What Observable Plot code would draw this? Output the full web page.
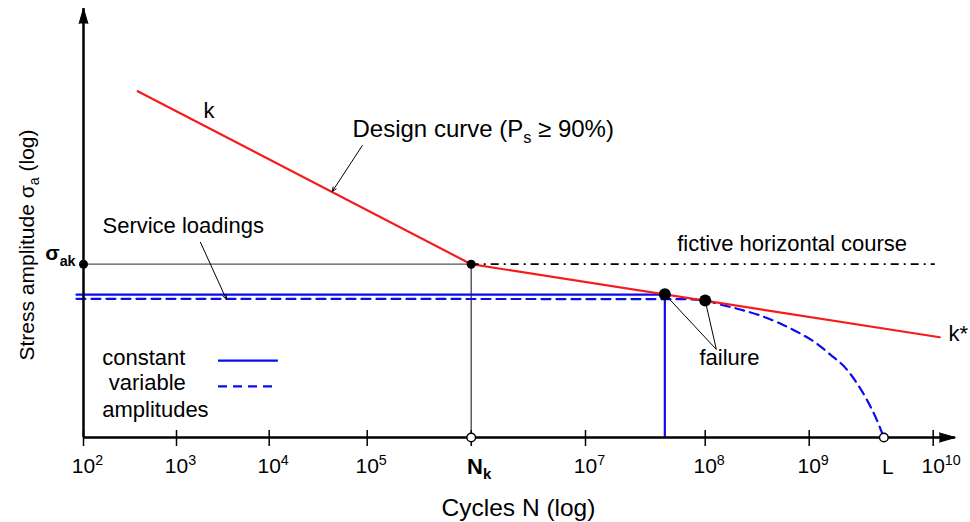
<!DOCTYPE html>
<html><head><meta charset="utf-8">
<script src="https://cdn.jsdelivr.net/npm/d3@7"></script>
<script src="https://cdn.jsdelivr.net/npm/@observablehq/plot@0.6"></script>
<style>
body{margin:0;background:#fff;}
#chart svg{display:block;font-family:"Liberation Sans",Arial,Helvetica,sans-serif;}
</style></head><body><div id="chart"></div>
<script>
// ---- axis ticks (cycles N, log) ----
const xDecades = [1e2, 1e3, 1e4, 1e5, 1e6, 1e7, 1e8, 1e9, 1e10];
const tickValues = [1e2, 1e3, 1e4, 1e5, 1e6, 1e7, 1e8, 1e9, 4e9, 1e10];
const tickLabels = ["10^{2}", "10^{3}", "10^{4}", "10^{5}", "N_{k}", "10^{7}", "10^{8}", "10^{9}", "L", "10^{10}"];
const tickMarked = [true, true, true, true, true, true, true, true, false, true];

// ---- key values (stress amplitude in relative log units, sigma_ak = 100) ----
const sigmaAk = 100;
const Nk = 1e6;
const NL = 4e9;
const yMin = 21, yTop = 1000;
const xMin = 1e2, xTip = 1.51e10;

// design curve (k, then k*)
const designN = [383, 1e6, 1.13e10];
const designS = [475, 100, 51.8];
// fictive horizontal course
const fictiveN = [1e6, 1.04e10];
// constant amplitude service loading
const constN = [84, 4.6e7];
const constS = [76, 76];
// variable amplitude service loading
const varN = [84, 6.2e7, 1e8, 1.39e8, 2.17e8, 3.38e8, 5.26e8, 8.19e8, 1.12e9, 1.48e9, 1.95e9, 2.44e9, 2.94e9, 3.47e9, 4e9];
const varS = [73.2, 73.0, 72.1, 69.6, 66.5, 63.0, 58.6, 53.6, 49.4, 44.3, 39.4, 34.1, 29.3, 24.9, 21];
// failure points
const failureN = [4.6e7, 1e8];
const failureS = [76.3, 72.1];
const failureLabelPoint = [1.28e8, 46.4];

// annotation arrows [from, to]
const arrowFromN = [8.9e4, 1.81e3];
const arrowFromS = [291, 121.9];
const arrowToN = [4.4e4, 3.46e3];
const arrowToS = [192.4, 72.8];

// annotation texts (left-aligned, baseline)
const designLabel = "Design curve (P_{s} ≥ 90%)";
const designLabelN = 7.08e4, designLabelS = 313;
const noteText = ["k", "Service loadings", "fictive horizontal course", "failure", "k*", "constant", "variable", "amplitudes"];
const noteN = [1.95e3, 160, 5.83e7, 8.96e7, 1.33e10, 159, 187, 159];
const noteS = [371.5, 133, 112.4, 40.2, 50.3, 40.4, 32.1, 25.2];

// legend samples
const legendN = [2.84e3, 1.24e4];
const legendConstS = 42.0;
const legendVarS = 33.3;

const xTitle = "Cycles N (log)";
const yTitle = "Stress amplitude σ_{a} (log)";
const sigmaLabel = "σ_{ak}";

// ---- build tables ----
const red = "#f41c1c", blue = "#0b0bf0";
const pts = (N, S) => N.map((n, i) => ({N: n, S: S[i]}));
const design = pts(designN, designS);
const constant = pts(constN, constS);
const variable = pts(varN, varS);
const failures = pts(failureN, failureS);
const notes = noteText.map((t, i) => ({text: t, N: noteN[i], S: noteS[i]}));
const arrows = arrowFromN.map((n, i) => ({x1: n, y1: arrowFromS[i], x2: arrowToN[i], y2: arrowToS[i]}));
const leaders = failures.map(d => ({x1: d.N, y1: d.S, x2: failureLabelPoint[0], y2: failureLabelPoint[1]}));
const ticks = tickValues.map((v, i) => ({N: v, label: tickLabels[i], marked: tickMarked[i]}));
const labelMap = new Map(ticks.map(d => [d.N, d.label]));
const powerTicks = ticks.filter(d => d.N !== Nk && d.N !== NL);

const plot = Plot.plot({
  width: 970, height: 522,
  marginTop: 8, marginBottom: 85, marginLeft: 83, marginRight: 37,
  style: {background: "white", color: "black", fontFamily: "Liberation Sans, Arial, sans-serif"},
  x: {type: "log", domain: xDecades, range: [83, 176, 268.7, 366.7, 470.7, 585, 704.7, 808.7, 932.7]},
  y: {type: "log", domain: [yMin, yTop], range: [437, 8], axis: null},
  marks: [
    // guide lines at sigma_ak and Nk
    Plot.ruleY([sigmaAk], {x1: xMin, x2: Nk, stroke: "#555", strokeWidth: 1.2}),
    Plot.ruleX([Nk], {y1: yMin, y2: sigmaAk, stroke: "#333", strokeWidth: 1.2}),
    // service loadings
    Plot.line(constant, {x: "N", y: "S", stroke: blue, strokeWidth: 2.2}),
    Plot.ruleX([failureN[0]], {y1: yMin, y2: constS[1], stroke: blue, strokeWidth: 2.2}),
    Plot.line(variable, {x: "N", y: "S", stroke: blue, strokeWidth: 2.2, strokeDasharray: "9,6", curve: "monotone-x"}),
    // design curve
    Plot.line(design, {x: "N", y: "S", stroke: red, strokeWidth: 2.2}),
    // fictive horizontal course
    Plot.ruleY([sigmaAk], {x1: fictiveN[0], x2: fictiveN[1], stroke: "black", strokeWidth: 1.7, strokeDasharray: "8,5,2,5"}),
    // annotation arrows and leaders
    Plot.arrow(arrows, {x1: "x1", y1: "y1", x2: "x2", y2: "y2", stroke: "black", strokeWidth: 1, headLength: 7, headAngle: 45}),
    Plot.link(leaders, {x1: "x1", y1: "y1", x2: "x2", y2: "y2", stroke: "black", strokeWidth: 1}),
    // legend samples
    Plot.ruleY([legendConstS], {x1: legendN[0], x2: legendN[1], stroke: blue, strokeWidth: 2.2}),
    Plot.ruleY([legendVarS], {x1: legendN[0], x2: legendN[1], stroke: blue, strokeWidth: 2.2, strokeDasharray: "9,6"}),
    // axes lines with arrowheads
    Plot.ruleY([yMin], {x1: xMin, x2: xTip, stroke: "black", strokeWidth: 2.5}),
    Plot.ruleX([xMin], {y1: yMin, y2: yTop, stroke: "black", strokeWidth: 2.5}),
    Plot.vector([{N: xTip, S: yMin}], {x: "N", y: "S", rotate: 90, length: 16, r: 4.6, shape: "spike", anchor: "end", fill: "black", stroke: "black", strokeWidth: 1}),
    Plot.vector([{N: xMin, S: yTop}], {x: "N", y: "S", rotate: 0, length: 15, r: 4.4, shape: "spike", anchor: "end", fill: "black", stroke: "black", strokeWidth: 1}),
    // tick marks crossing the axis
    Plot.ruleX(ticks.filter(d => d.marked), {x: "N", y1: yMin, y2: yMin, insetTop: -7, insetBottom: -9, stroke: "black", strokeWidth: 1.5}),
    // tick labels
    Plot.axisX(powerTicks.map(d => d.N), {tickSize: 0, tickPadding: 21, fontSize: 21, tickFormat: d => labelMap.get(d)}),
    Plot.axisX([Nk], {tickSize: 0, tickPadding: 21, fontSize: 22, fontWeight: "bold", dx: 8, tickFormat: d => labelMap.get(d)}),
    Plot.text([{N: NL, label: labelMap.get(NL)}], {x: "N", text: "label", frameAnchor: "bottom", lineAnchor: "bottom", dy: 36, dx: 4, fontSize: 21}),
    // points
    Plot.dot([{N: xMin, S: sigmaAk}, {N: Nk, S: sigmaAk}], {x: "N", y: "S", r: 4.5, fill: "black"}),
    Plot.dot(failures, {x: "N", y: "S", r: 6, fill: "black"}),
    Plot.dot([{N: Nk, S: yMin}, {N: NL, S: yMin}], {x: "N", y: "S", r: 4.3, fill: "white", stroke: "black", strokeWidth: 1.4}),
    // texts
    Plot.text(notes, {x: "N", y: "S", text: "text", textAnchor: "start", lineAnchor: "bottom", fontSize: 22, fill: "black"}),
    Plot.text([designLabel], {x: designLabelN, y: designLabelS, textAnchor: "start", lineAnchor: "bottom", fontSize: 24, fill: "black"}),
    Plot.text([sigmaLabel], {x: xMin, y: 103.4, textAnchor: "end", lineAnchor: "bottom", dx: -8, fontSize: 21, fontWeight: "bold"}),
    Plot.text([xTitle], {frameAnchor: "bottom", lineAnchor: "bottom", dy: 78, dx: 10, fontSize: 24.5}),
    Plot.text([yTitle], {frameAnchor: "left", rotate: -90, lineAnchor: "bottom", textAnchor: "middle", dx: -50, dy: 22, fontSize: 21})
  ]
});

document.getElementById("chart").append(plot);

// rich text: ^{...} superscript, _{...} subscript
(function richText(svg) {
  const NS = "http://www.w3.org/2000/svg";
  svg.querySelectorAll("text").forEach(t => {
    const s = t.textContent;
    if (!/[\^_]\{/.test(s)) return;
    const fs = parseFloat(getComputedStyle(t).fontSize) || 21;
    const parts = s.split(/([\^_]\{[^}]*\})/).filter(p => p);
    t.textContent = "";
    let shift = 0;
    const spans = [];
    parts.forEach(p => {
      const ts = document.createElementNS(NS, "tspan");
      let target = 0, kind = "";
      if (p.startsWith("^{")) { target = -0.38 * fs; kind = "sup"; p = p.slice(2, -1); }
      else if (p.startsWith("_{")) { target = 0.24 * fs; kind = "sub"; p = p.slice(2, -1); }
      if (kind) ts.setAttribute("font-size", (0.68 * fs) + "px");
      const dy = target - shift;
      if (dy) ts.setAttribute("dy", dy);
      shift = target;
      ts.textContent = p;
      t.appendChild(ts);
      spans.push({ts, kind});
    });
    // center the base of tick labels on the tick when a superscript trails
    const anchor = getComputedStyle(t).textAnchor;
    const last = spans[spans.length - 1];
    if (anchor === "middle" && last.kind === "sup" && spans.length > 1) {
      spans[0].ts.setAttribute("dx", last.ts.getComputedTextLength() / 2);
    }
  });
})(plot);
</script>
</body></html>
